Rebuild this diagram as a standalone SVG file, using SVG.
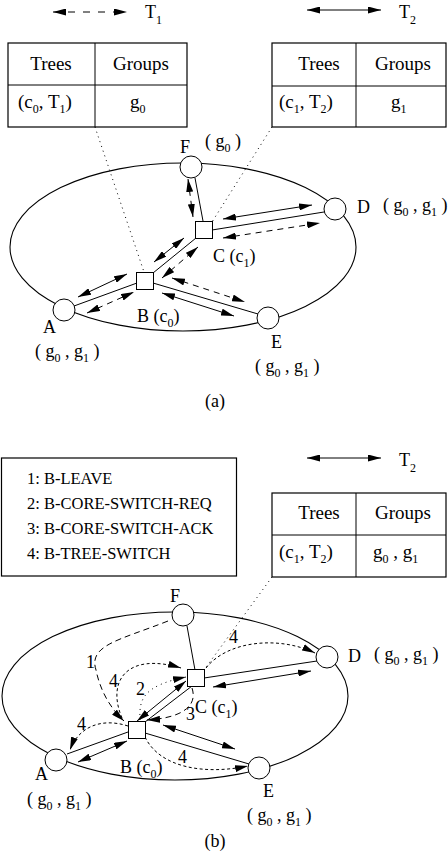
<svg xmlns="http://www.w3.org/2000/svg" width="448" height="856" viewBox="0 0 448 856">
<style>
text{font-family:"Liberation Serif","Times New Roman",serif;fill:#000}
.t{font-size:18px}
.tb{font-size:19px}
.lg{font-size:16.5px}
.s{font-size:12px}
.ln{stroke:#000;stroke-width:1;fill:none}
.el{stroke:#000;stroke-width:1.1;fill:none}
.arr{stroke:#000;stroke-width:1;fill:none;marker-start:url(#ah);marker-end:url(#ah)}
.msg{stroke:#000;stroke-width:1;fill:none;marker-end:url(#ah)}
.d{stroke-dasharray:6 5}
.d1{stroke-dasharray:6 4}
.d3{stroke-dasharray:3 2.5}
.d2{stroke-dasharray:1 4}
.dt{stroke:#000;stroke-width:1;stroke-dasharray:1 4;fill:none}
.nd{fill:#fff;stroke:#000;stroke-width:1}
.tbl{fill:#fff;stroke:#000;stroke-width:1.2}
</style>
<defs>
<marker id="ah" viewBox="0 0 13 7" refX="13" refY="3.5" markerWidth="13" markerHeight="7" markerUnits="userSpaceOnUse" orient="auto-start-reverse"><path d="M0,0 L13,3.5 L0,7 z" fill="#000"/></marker>
</defs>

<!-- ===== (a) ===== -->
<g id="legend-a">
<line class="arr d" x1="53" y1="12" x2="127" y2="12" style="stroke-dasharray:7 8"/>
<text class="t" x="145" y="18">T<tspan class="s" dy="6">1</tspan></text>
<line class="arr" x1="307" y1="10" x2="381" y2="10"/>
<text class="t" x="399" y="18">T<tspan class="s" dy="6">2</tspan></text>
</g>
<g id="table-a1">
<rect class="tbl" x="8" y="43" width="179" height="84"/>
<line class="ln" x1="8" y1="85" x2="187" y2="85"/>
<line class="ln" x1="95" y1="43" x2="95" y2="127"/>
<text class="tb" x="51" y="70" text-anchor="middle">Trees</text>
<text class="tb" x="141" y="70" text-anchor="middle">Groups</text>
<text class="tb" x="18" y="108">(c<tspan class="s" dy="5">0</tspan><tspan dy="-5">, T</tspan><tspan class="s" dy="5">1</tspan><tspan dy="-5">)</tspan></text>
<text class="tb" x="130" y="108">g<tspan class="s" dy="5">0</tspan></text>
</g>
<g id="table-a2">
<rect class="tbl" x="272" y="43" width="174" height="84"/>
<line class="ln" x1="272" y1="86" x2="446" y2="86"/>
<line class="ln" x1="356" y1="43" x2="356" y2="127"/>
<text class="tb" x="319" y="70" text-anchor="middle">Trees</text>
<text class="tb" x="403" y="70" text-anchor="middle">Groups</text>
<text class="tb" x="279" y="108">(c<tspan class="s" dy="5">1</tspan><tspan dy="-5">, T</tspan><tspan class="s" dy="5">2</tspan><tspan dy="-5">)</tspan></text>
<text class="tb" x="391" y="108">g<tspan class="s" dy="5">1</tspan></text>
</g>
<g id="network-a">
<ellipse class="el" cx="183" cy="247" rx="173" ry="84"/>
</g>
<g id="connectors-a">
<line class="dt" x1="95" y1="127" x2="144" y2="272"/>
<line class="dt" x1="272" y1="127" x2="212" y2="222"/>
<line class="ln" x1="195" y1="178" x2="203" y2="221"/>
<line class="ln" x1="212" y1="230" x2="324" y2="212"/>
<line class="ln" x1="153" y1="273" x2="196" y2="238"/>
<line class="ln" x1="74" y1="306" x2="137" y2="283"/>
<line class="ln" x1="153" y1="283" x2="258" y2="314"/>
<line class="arr d" x1="188" y1="179" x2="193" y2="217"/>
<line class="arr" x1="223" y1="219" x2="312" y2="205"/>
<line class="arr d" x1="223" y1="238" x2="320" y2="223"/>
<line class="arr" x1="154" y1="262" x2="184" y2="238"/>
<line class="arr d" x1="162" y1="278" x2="198" y2="247"/>
<line class="arr" x1="78" y1="297" x2="127" y2="274"/>
<line class="arr d" x1="87" y1="313" x2="134" y2="292"/>
<line class="arr d" x1="172" y1="278" x2="245" y2="302"/>
<line class="arr" x1="162" y1="293" x2="234" y2="316"/>
</g>
<g id="node-a-F"><circle class="nd" cx="191" cy="167" r="11"/><text class="t" x="180" y="153">F</text><text class="t" x="205" y="147">( g<tspan class="s" dy="5">0</tspan><tspan dy="-5"> )</tspan></text></g>
<g id="node-a-D"><circle class="nd" cx="335" cy="209" r="11"/><text class="t" x="357" y="213">D</text><text class="t" x="383" y="211">( g<tspan class="s" dy="5">0</tspan><tspan dy="-5"> , g</tspan><tspan class="s" dy="5">1</tspan><tspan dy="-5"> )</tspan></text></g>
<g id="node-a-C"><rect class="nd" x="195.5" y="221.5" width="17" height="17"/><text class="t" x="213" y="262">C (c<tspan class="s" dy="5">1</tspan><tspan dy="-5">)</tspan></text></g>
<g id="node-a-B"><rect class="nd" x="136.5" y="272.5" width="17" height="17"/><text class="t" x="137" y="322">B (c<tspan class="s" dy="5">0</tspan><tspan dy="-5">)</tspan></text></g>
<g id="node-a-A"><circle class="nd" cx="64" cy="310" r="11"/><text class="t" x="43" y="333">A</text><text class="t" x="35" y="357">( g<tspan class="s" dy="5">0</tspan><tspan dy="-5"> , g</tspan><tspan class="s" dy="5">1</tspan><tspan dy="-5"> )</tspan></text></g>
<g id="node-a-E"><circle class="nd" cx="268" cy="318" r="11"/><text class="t" x="271" y="348">E</text><text class="t" x="255" y="372">( g<tspan class="s" dy="5">0</tspan><tspan dy="-5"> , g</tspan><tspan class="s" dy="5">1</tspan><tspan dy="-5"> )</tspan></text></g>
<text class="t" x="215" y="407" text-anchor="middle">(a)</text>

<!-- ===== (b) ===== -->
<g id="legend-box">
<rect class="tbl" x="1.5" y="458" width="235" height="118"/>
<text class="lg" x="27" y="484">1: B-LEAVE</text>
<text class="lg" x="27" y="509">2: B-CORE-SWITCH-REQ</text>
<text class="lg" x="27" y="534">3: B-CORE-SWITCH-ACK</text>
<text class="lg" x="27" y="559">4: B-TREE-SWITCH</text>
</g>
<g id="legend-b">
<line class="arr" x1="307" y1="458" x2="381" y2="458"/>
<text class="t" x="399" y="466">T<tspan class="s" dy="6">2</tspan></text>
</g>
<g id="table-b">
<rect class="tbl" x="272" y="493" width="174" height="84"/>
<line class="ln" x1="272" y1="535" x2="446" y2="535"/>
<line class="ln" x1="356" y1="493" x2="356" y2="577"/>
<text class="tb" x="319" y="519" text-anchor="middle">Trees</text>
<text class="tb" x="403" y="519" text-anchor="middle">Groups</text>
<text class="tb" x="279" y="558">(c<tspan class="s" dy="5">1</tspan><tspan dy="-5">, T</tspan><tspan class="s" dy="5">2</tspan><tspan dy="-5">)</tspan></text>
<text class="tb" x="373" y="558">g<tspan class="s" dy="5">0</tspan><tspan dy="-5"> , g</tspan><tspan class="s" dy="5">1</tspan></text>
</g>
<g id="network-b">
<ellipse class="el" cx="175" cy="696" rx="173" ry="84"/>
</g>
<g id="connectors-b">
<line class="dt" x1="272" y1="577" x2="204" y2="670"/>
<line class="ln" x1="187" y1="626" x2="195" y2="670"/>
<line class="ln" x1="204" y1="678" x2="317" y2="661"/>
<line class="ln" x1="145" y1="722" x2="192" y2="686"/>
<line class="ln" x1="67" y1="754" x2="128" y2="732"/>
<line class="ln" x1="145" y1="733" x2="249" y2="764"/>
<line class="arr" x1="213" y1="687" x2="311" y2="671"/>
<line class="arr" x1="137" y1="721" x2="186" y2="681"/>
<line class="arr" x1="78" y1="762" x2="127" y2="741"/>
<line class="arr" x1="163" y1="725" x2="235" y2="749"/>
<path class="msg d1" d="M168 621 C120 640, 88 645, 96 670 C100 690, 110 708, 124 721"/>
<path class="msg d3" d="M122 718 C106 680, 128 652, 181 668"/>
<path class="msg d2" d="M140 720 C139 700, 142 686, 186 677"/>
<path class="msg d1" d="M192 688 C198 706, 182 718, 147 720"/>
<path class="msg d3" d="M128 726 C100 717, 78 728, 70 750"/>
<path class="msg d3" d="M145 737 C160 768, 205 775, 248 766"/>
<path class="msg d3" d="M206 668 C228 640, 280 636, 315 653"/>
<text class="t" x="86" y="668">1</text>
<text class="t" x="109" y="687">4</text>
<text class="t" x="136" y="695">2</text>
<text class="t" x="186" y="720">3</text>
<text class="t" x="77" y="730">4</text>
<text class="t" x="178" y="763">4</text>
<text class="t" x="229" y="643">4</text>
</g>
<g id="node-b-F"><circle class="nd" cx="183" cy="615" r="11"/><text class="t" x="170" y="602">F</text></g>
<g id="node-b-D"><circle class="nd" cx="327" cy="657" r="11"/><text class="t" x="348" y="662">D</text><text class="t" x="374" y="660">( g<tspan class="s" dy="5">0</tspan><tspan dy="-5"> , g</tspan><tspan class="s" dy="5">1</tspan><tspan dy="-5"> )</tspan></text></g>
<g id="node-b-C"><rect class="nd" x="187.5" y="669.5" width="17" height="17"/><text class="t" x="195" y="713">C (c<tspan class="s" dy="5">1</tspan><tspan dy="-5">)</tspan></text></g>
<g id="node-b-B"><rect class="nd" x="128.5" y="721.5" width="17" height="17"/><text class="t" x="120" y="773">B (c<tspan class="s" dy="5">0</tspan><tspan dy="-5">)</tspan></text></g>
<g id="node-b-A"><circle class="nd" cx="56" cy="760" r="11"/><text class="t" x="35" y="780">A</text><text class="t" x="27" y="805">( g<tspan class="s" dy="5">0</tspan><tspan dy="-5"> , g</tspan><tspan class="s" dy="5">1</tspan><tspan dy="-5"> )</tspan></text></g>
<g id="node-b-E"><circle class="nd" cx="259" cy="768" r="11"/><text class="t" x="263" y="797">E</text><text class="t" x="247" y="821">( g<tspan class="s" dy="5">0</tspan><tspan dy="-5"> , g</tspan><tspan class="s" dy="5">1</tspan><tspan dy="-5"> )</tspan></text></g>
<text class="t" x="215" y="847" text-anchor="middle">(b)</text>
</svg>
